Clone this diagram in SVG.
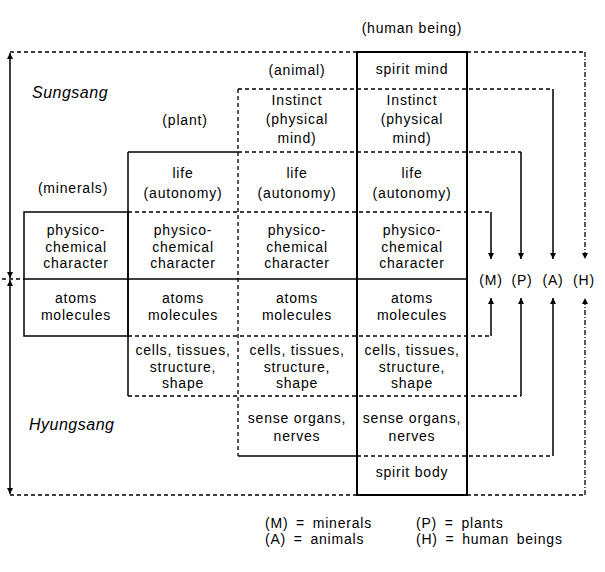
<svg xmlns="http://www.w3.org/2000/svg" width="605" height="572" viewBox="0 0 605 572">
<style>
text{font-family:"Liberation Sans",Arial,sans-serif;font-size:14px;fill:#000;letter-spacing:0.8px}
.c{text-anchor:middle}
.it{font-style:italic;font-size:16px;letter-spacing:0.5px}
.s{stroke:#000;stroke-width:1.5;fill:none}
.b{stroke:#000;stroke-width:2;fill:none}
.d{stroke:#000;stroke-width:1.3;fill:none;stroke-dasharray:4 3}
.dd{stroke:#000;stroke-width:1.3;fill:none;stroke-dasharray:5 2 1 2}
</style>
<defs>
<marker id="ah" viewBox="0 0 10 10" refX="10" refY="5" markerWidth="6" markerHeight="6" markerUnits="userSpaceOnUse" orient="auto">
<path d="M0,0 L10,5 L0,10 z" fill="#000"/>
</marker>
<marker id="ahs" viewBox="0 0 10 10" refX="0" refY="5" markerWidth="6" markerHeight="6" markerUnits="userSpaceOnUse" orient="auto">
<path d="M10,0 L0,5 L10,10 z" fill="#000"/>
</marker>
</defs>
<rect width="605" height="572" fill="#fff"/>

<g id="grid">
<!-- outer dashed frame -->
<line class="d" x1="10" y1="52" x2="357" y2="52"/>
<line class="d" x1="467" y1="52" x2="585" y2="52"/>
<line class="d" x1="10" y1="495" x2="357" y2="495"/>
<line class="d" x1="467" y1="495" x2="585" y2="495"/>
<line class="d" x1="2" y1="279" x2="24" y2="279"/>
<!-- human column -->
<rect class="b" x="357" y="52" width="110" height="443"/>
<!-- minerals box -->
<rect class="s" x="24" y="212" width="104" height="124"/>
<!-- middle line -->
<line class="s" x1="24" y1="279" x2="467" y2="279"/>
<!-- plant column -->
<line class="s" x1="128" y1="152" x2="128" y2="396"/>
<line class="s" x1="128" y1="152" x2="238" y2="152"/>
<line class="d" x1="238" y1="152" x2="521" y2="152"/>
<line class="d" x1="128" y1="396" x2="521" y2="396"/>
<!-- animal column -->
<line class="d" x1="238" y1="89" x2="238" y2="456"/>
<line class="d" x1="238" y1="89" x2="553" y2="89"/>
<line class="s" x1="238" y1="456" x2="357" y2="456"/>
<line class="d" x1="357" y1="456" x2="553" y2="456"/>
<!-- minerals rows extension -->
<line class="d" x1="128" y1="212" x2="491" y2="212"/>
<line class="d" x1="128" y1="336" x2="491" y2="336"/>
</g>

<g id="connectors">
<line class="s" x1="10" y1="160" x2="10" y2="53" marker-end="url(#ah)"/>
<line class="s" x1="10" y1="160" x2="10" y2="278" marker-end="url(#ah)"/>
<line class="s" x1="10" y1="390" x2="10" y2="280" marker-end="url(#ah)"/>
<line class="s" x1="10" y1="390" x2="10" y2="494" marker-end="url(#ah)"/>
<line class="s" x1="491" y1="212" x2="491" y2="259" marker-end="url(#ah)"/>
<line class="s" x1="521" y1="152" x2="521" y2="259" marker-end="url(#ah)"/>
<line class="s" x1="553" y1="89" x2="553" y2="259" marker-end="url(#ah)"/>
<line class="dd" x1="585" y1="52" x2="585" y2="259" marker-end="url(#ah)"/>
<line class="s" x1="491" y1="336" x2="491" y2="298" marker-end="url(#ah)"/>
<line class="s" x1="521" y1="396" x2="521" y2="298" marker-end="url(#ah)"/>
<line class="s" x1="553" y1="456" x2="553" y2="298" marker-end="url(#ah)"/>
<line class="dd" x1="585" y1="495" x2="585" y2="298" marker-end="url(#ah)"/>
</g>

<g id="labels">
<text class="c" x="412" y="33">(human being)</text>
<text class="c" x="297" y="75">(animal)</text>
<text class="c" x="185" y="125">(plant)</text>
<text class="c" x="73" y="193">(minerals)</text>
<text class="it" x="32" y="98">Sungsang</text>
<text class="it" x="29" y="430">Hyungsang</text>
</g>

<g id="human-spirit-mind"><text class="c" x="412" y="74">spirit mind</text></g>
<g id="animal-instinct"><text class="c" x="297" y="105">Instinct</text><text class="c" x="297" y="124">(physical</text><text class="c" x="297" y="143">mind)</text></g>
<g id="human-instinct"><text class="c" x="412" y="105">Instinct</text><text class="c" x="412" y="124">(physical</text><text class="c" x="412" y="143">mind)</text></g>
<g id="plant-life"><text class="c" x="183" y="178">life</text><text class="c" x="183" y="198">(autonomy)</text></g>
<g id="animal-life"><text class="c" x="297" y="178">life</text><text class="c" x="297" y="198">(autonomy)</text></g>
<g id="human-life"><text class="c" x="412" y="178">life</text><text class="c" x="412" y="198">(autonomy)</text></g>

<g id="mineral-physico"><text class="c" x="76" y="235">physico-</text><text class="c" x="76" y="252">chemical</text><text class="c" x="76" y="268">character</text></g>
<g id="plant-physico"><text class="c" x="183" y="235">physico-</text><text class="c" x="183" y="252">chemical</text><text class="c" x="183" y="268">character</text></g>
<g id="animal-physico"><text class="c" x="297" y="235">physico-</text><text class="c" x="297" y="252">chemical</text><text class="c" x="297" y="268">character</text></g>
<g id="human-physico"><text class="c" x="412" y="235">physico-</text><text class="c" x="412" y="252">chemical</text><text class="c" x="412" y="268">character</text></g>

<g id="mineral-atoms"><text class="c" x="76" y="303">atoms</text><text class="c" x="76" y="320">molecules</text></g>
<g id="plant-atoms"><text class="c" x="183" y="303">atoms</text><text class="c" x="183" y="320">molecules</text></g>
<g id="animal-atoms"><text class="c" x="297" y="303">atoms</text><text class="c" x="297" y="320">molecules</text></g>
<g id="human-atoms"><text class="c" x="412" y="303">atoms</text><text class="c" x="412" y="320">molecules</text></g>

<g id="plant-cells"><text class="c" x="183" y="355">cells, tissues,</text><text class="c" x="183" y="372">structure,</text><text class="c" x="183" y="388">shape</text></g>
<g id="animal-cells"><text class="c" x="297" y="355">cells, tissues,</text><text class="c" x="297" y="372">structure,</text><text class="c" x="297" y="388">shape</text></g>
<g id="human-cells"><text class="c" x="412" y="355">cells, tissues,</text><text class="c" x="412" y="372">structure,</text><text class="c" x="412" y="388">shape</text></g>

<g id="animal-sense"><text class="c" x="297" y="423">sense organs,</text><text class="c" x="297" y="441">nerves</text></g>
<g id="human-sense"><text class="c" x="412" y="423">sense organs,</text><text class="c" x="412" y="441">nerves</text></g>
<g id="human-spirit-body"><text class="c" x="412" y="477">spirit body</text></g>

<g id="M"><text class="c" x="491" y="285">(M)</text></g>
<g id="P"><text class="c" x="522" y="285">(P)</text></g>
<g id="A"><text class="c" x="553" y="285">(A)</text></g>
<g id="H"><text class="c" x="584" y="285">(H)</text></g>

<g id="legend" style="word-spacing:3px">
<text x="265" y="528">(M) = minerals</text>
<text x="416" y="528">(P) = plants</text>
<text x="265" y="544">(A) = animals</text>
<text x="416" y="544">(H) = human beings</text>
</g>
</svg>
